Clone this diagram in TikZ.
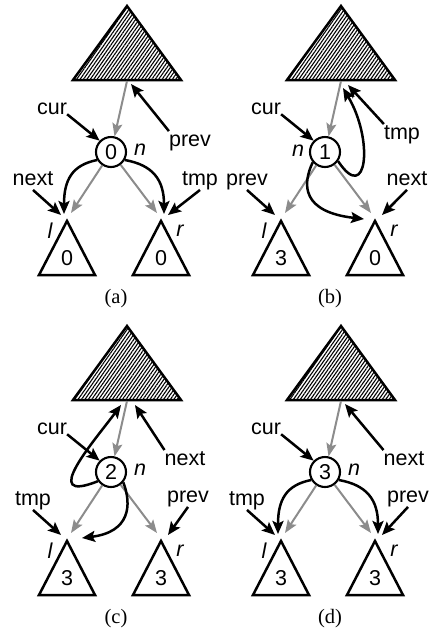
\documentclass[tikz,border=0pt]{standalone}
\usepackage{fontspec}
\setmainfont{Liberation Sans}
\newfontfamily\captionserif{Liberation Serif}
\usetikzlibrary{arrows.meta,patterns.meta}

\tikzset{
  tri/.style={draw=black, line width=2.5pt, line join=miter},
  hatched/.style={pattern={Lines[angle=55,distance=2.8pt,line width=1.1pt]}},
  vert/.style={circle, draw=black, fill=white, line width=2.1pt, minimum size=30pt, inner sep=0pt, font=\fontsize{21.5}{22}\selectfont},
  lbl/.style={inner sep=0pt, text height=15pt, text depth=4.5pt, font=\fontsize{21.5}{22}\selectfont},
  digit/.style={inner sep=0pt, font=\fontsize{21.5}{22}\selectfont},
  sublbl/.style={inner sep=0pt, font=\fontsize{21.5}{22}\selectfont\itshape},
  caplabel/.style={inner sep=0pt, font=\fontsize{20.5}{22}\captionserif},
  ptr/.style={draw=black, line width=2.5pt, -{Stealth[length=13pt,width=11pt,inset=2.5pt]}},
  treeedge/.style={draw=black!45, line width=2pt, -{Stealth[length=13pt,width=10pt,inset=2.5pt]}},
}

% Common part of one step: subtree above, vertex n, children l and r,
% tree edges, the cur pointer and the pointer at l.
% #1 vertex count, #2 left count, #3 right count, #4 caption letter,
% #5 pointer at l
\newcommand\treeskel[5]{%
  \draw[tri,hatched] (127,6) -- (181,80) -- (73,80) -- cycle;
  \coordinate (Tb) at (127,81);
  \draw[tri] (67,221) -- (95,275) -- (39,275) -- cycle;
  \draw[tri] (161,221) -- (189,275) -- (133,275) -- cycle;
  \node[digit] (Ld) at (67,258) {#2};
  \node[digit] (Rd) at (161,258) {#3};
  \node[sublbl] (l) at (50,231) {l};
  \node[sublbl] (r) at (180,231) {r};
  \node[vert] (C) at (111,152) {#1};
  \coordinate (Lg) at (71,213);
  \coordinate (Rg) at (157,213);
  \draw[treeedge] (Tb) -- (C);
  \draw[treeedge] (C) -- (Lg);
  \draw[treeedge] (C) -- (Rg);
  \node[caplabel] (caption) at (116,299) {(#4)};
  \node[lbl] (cur) at (52,109) {cur};
  \draw[ptr] (cur.base east) -- (C.135);
  \node[lbl] (pL) at (33,180) {#5};
  \coordinate (Lp) at (61,215);
  \coordinate (Rp) at (168,215);
  \draw[ptr] (pL.south) -- (Lp);
}

\begin{document}
\begin{tikzpicture}[x=1pt, y=-1pt]
\useasboundingbox (0,0) rectangle (429,633);

% (a)
\begin{scope}[name prefix=a-]
  \treeskel{0}{0}{0}{a}{next}
  \node[sublbl] (n) at (140,150) {n};
  \node[lbl] (pT) at (190,141) {prev};
  \node[lbl] (pR) at (200,180) {tmp};
  \coordinate (Tp) at (131,84);
  \draw[ptr] (pT.north west) -- (Tp);
  \draw[ptr] (pR.south) -- (Rp);
  \draw[ptr] (C.210) .. controls (72,165) and (64,180) .. (64,214);
  \draw[ptr] (C.-30) .. controls (153,165) and (164,180) .. (164,214);
\end{scope}

% (b)
\begin{scope}[shift={(214,0)}, name prefix=b-]
  \treeskel{1}{3}{0}{b}{prev}
  \node[sublbl] (n) at (84,151) {n};
  \node[lbl] (pT) at (188,134) {tmp};
  \node[lbl] (pR) at (193,180) {next};
  \coordinate (Tp) at (134,85);
  \coordinate (Tq) at (129,88);
  \coordinate (Rq) at (150,219);
  \draw[ptr] (pT.north west) -- (Tp);
  \draw[ptr] (pR.south) -- (Rp);
  \draw[ptr] (C.-35) .. controls (153,205) and (160,140) .. (Tq);
  \draw[ptr] (C.220) .. controls (88,185) and (88,212) .. (Rq);
\end{scope}

% (c)
\begin{scope}[shift={(0,320)}, name prefix=c-]
  \treeskel{2}{3}{3}{c}{tmp}
  \node[sublbl] (n) at (140,150) {n};
  \node[lbl] (pT) at (185,140) {next};
  \node[lbl] (pR) at (188,177) {prev};
  \coordinate (Tp) at (135,85);
  \coordinate (Tq) at (121,85);
  \coordinate (Lq) at (82,218);
  \draw[ptr] (pT.north west) -- (Tp);
  \draw[ptr] (pR.south) -- (Rp);
  \draw[ptr] (C.215) .. controls (38,185) and (95,120) .. (Tq);
  \draw[ptr] (C.-40) .. controls (132,185) and (130,212) .. (Lq);
\end{scope}

% (d)
\begin{scope}[shift={(214,320)}, name prefix=d-]
  \treeskel{3}{3}{3}{d}{tmp}
  \node[sublbl] (n) at (140,150) {n};
  \node[lbl] (pT) at (190,140) {next};
  \node[lbl] (pR) at (194,177) {prev};
  \coordinate (Tp) at (131,84);
  \draw[ptr] (pT.north west) -- (Tp);
  \draw[ptr] (pR.south) -- (Rp);
  \draw[ptr] (C.210) .. controls (72,165) and (64,180) .. (64,214);
  \draw[ptr] (C.-30) .. controls (153,165) and (164,180) .. (164,214);
\end{scope}
\end{tikzpicture}
\end{document}
